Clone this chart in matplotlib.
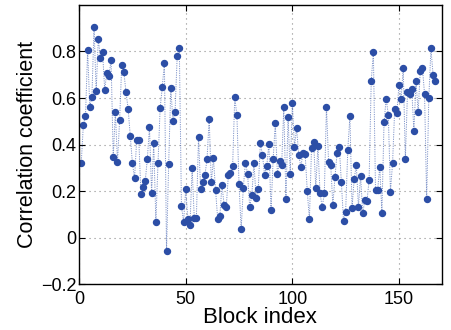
import numpy as np
import matplotlib
matplotlib.use('Agg')
import matplotlib.pyplot as plt

plt.rcParams['font.family'] = ['Liberation Sans', 'DejaVu Sans']

# correlation coefficient per block
corr = [0.32, 0.486, 0.522, 0.806, 0.563, 0.603, 0.905, 0.629, 0.855, 0.77,
        0.799, 0.636, 0.708, 0.696, 0.763, 0.345, 0.54, 0.325, 0.504, 0.744,
        0.711, 0.624, 0.553, 0.435, 0.32, 0.256, 0.419, 0.419, 0.187, 0.216,
        0.242, 0.338, 0.475, 0.191, 0.407, 0.068, 0.32, 0.555, 0.647, 0.751,
        -0.058, 0.315, 0.645, 0.501, 0.541, 0.781, 0.817, 0.134, 0.069, 0.207,
        0.082, 0.053, 0.301, 0.085, 0.085, 0.433, 0.207, 0.237, 0.268, 0.338,
        0.511, 0.237, 0.34, 0.204, 0.079, 0.092, 0.227, 0.14, 0.131, 0.268,
        0.278, 0.308, 0.603, 0.525, 0.23, 0.035, 0.214, 0.322, 0.275, 0.131,
        0.183, 0.322, 0.171, 0.207, 0.407, 0.355, 0.268, 0.308, 0.403, 0.117,
        0.338, 0.492, 0.272, 0.331, 0.314, 0.563, 0.164, 0.518, 0.272, 0.578,
        0.39, 0.47, 0.355, 0.304, 0.365, 0.36, 0.2, 0.078, 0.386, 0.41,
        0.212, 0.393, 0.19, 0.131, 0.19, 0.563, 0.324, 0.312, 0.138, 0.262,
        0.365, 0.391, 0.237, 0.072, 0.112, 0.377, 0.522, 0.127, 0.252, 0.312,
        0.131, 0.266, 0.105, 0.161, 0.157, 0.247, 0.673, 0.799, 0.204, 0.204,
        0.305, 0.105, 0.496, 0.597, 0.529, 0.197, 0.32, 0.551, 0.537, 0.655,
        0.597, 0.728, 0.337, 0.624, 0.617, 0.637, 0.459, 0.671, 0.54, 0.717,
        0.731, 0.617, 0.167, 0.6, 0.813, 0.699, 0.673]
block = np.arange(1, len(corr) + 1)

xticks = [0, 50, 100, 150]
yticks = [-0.2, 0, 0.2, 0.4, 0.6, 0.8]
yticklabels = ['\u22120.2', '0', '0.2', '0.4', '0.6', '0.8']

col = '#2c4ea6'

fig = plt.figure(figsize=(4.52, 3.30), dpi=100)
ax = fig.add_axes([0.175, 0.139, 0.802, 0.846])
ax.plot(block, corr, linestyle=(0, (1.2, 1.2)), color=col, linewidth=0.7, alpha=0.6)
ax.plot(block, corr, linestyle='none', marker='o', color=col, markersize=4.3)

ax.set_xlim(0, 170)
ax.set_ylim(-0.2, 1.0)
ax.set_xticks(xticks)
ax.set_yticks(yticks)
ax.set_yticklabels(yticklabels)
ax.grid(True, linestyle=(0, (1, 3.5)), color='#8c8c8c', linewidth=0.8)
ax.tick_params(direction='in', top=True, right=True, labelsize=13, length=4)
ax.tick_params(axis='x', pad=5)
ax.tick_params(axis='y', pad=2)
for s in ax.spines.values():
    s.set_linewidth(1.0)
ax.set_xlabel('Block index', fontsize=16, labelpad=-1)
ax.set_ylabel('Correlation coefficient', fontsize=15.5, labelpad=2)

plt.savefig('out.png', dpi=100)
